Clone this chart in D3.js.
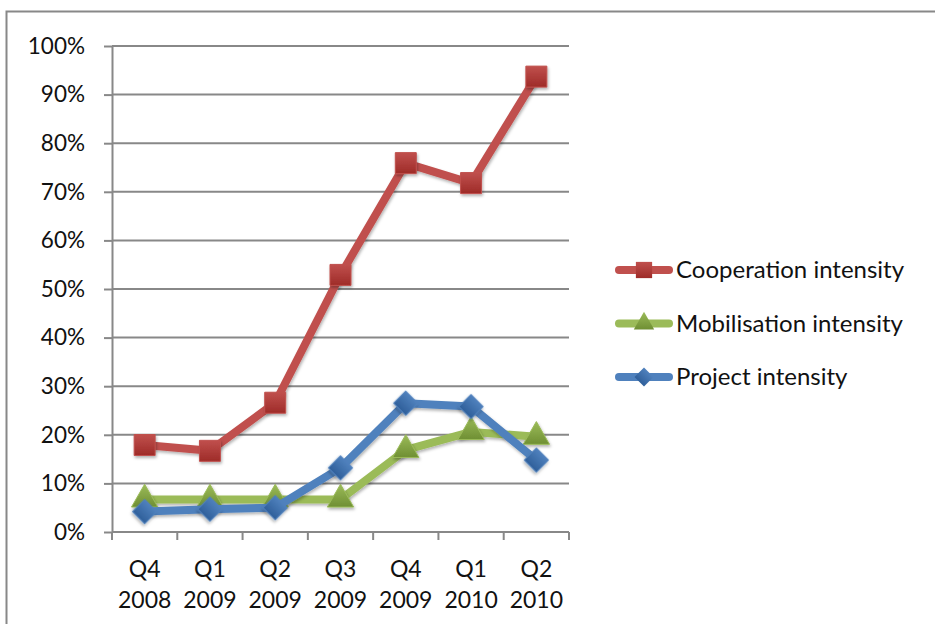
<!DOCTYPE html>
<html>
  <head>
    <meta charset="utf-8" />
    <script src="https://d3js.org/d3.v7.min.js"></script>
    <style>
      body { margin: 0; background: #fff; }
      text { font-family: Lato, "Noto Sans", sans-serif; fill: #111; }
    </style>
  </head>
  <body>
    <svg id="chart" width="935" height="624"></svg>
    <script>
      // data
      const quarters = ["Q4", "Q1", "Q2", "Q3", "Q4", "Q1", "Q2"];
      const years = ["2008", "2009", "2009", "2009", "2009", "2010", "2010"];
      const cooperation = [17.9, 16.7, 26.6, 52.9, 75.9, 71.8, 93.7];
      const mobilisation = [6.7, 6.7, 6.7, 6.7, 16.9, 20.6, 19.6];
      const project = [4.2, 4.7, 5.0, 13.2, 26.5, 25.8, 14.8];
      const yTicks = [0, 10, 20, 30, 40, 50, 60, 70, 80, 90, 100];

      // diamond = square turned by 45 degrees
      const series = [
        { name: "Cooperation intensity", values: cooperation, color: "#c0504d", dark: "#9e2b28", shape: d3.symbolSquare, size: 440, rot: 0 },
        { name: "Mobilisation intensity", values: mobilisation, color: "#9bbb59", dark: "#6f8f33", shape: d3.symbolTriangle, size: 300, rot: 0 },
        { name: "Project intensity", values: project, color: "#4f81bd", dark: "#2f5f9a", shape: d3.symbolSquare, size: 300, rot: 45 }
      ];

      const svg = d3.select("#chart");

      // outer frame of the chart object
      svg.append("rect")
        .attr("x", 6.5).attr("y", 11.5)
        .attr("width", 1000).attr("height", 700)
        .attr("fill", "none").attr("stroke", "#888").attr("stroke-width", 2);

      const plotL = 112, plotR = 569, plotT = 46, plotB = 532;

      const x = d3.scaleBand().domain(d3.range(quarters.length)).range([plotL, plotR]);
      const y = d3.scaleLinear().domain([0, 100]).range([plotB, plotT]);

      const defs = svg.append("defs");
      const shadow = defs.append("filter").attr("id", "shadow")
        .attr("x", "-50%").attr("y", "-50%").attr("width", "200%").attr("height", "200%");
      shadow.append("feDropShadow")
        .attr("dx", 1).attr("dy", 2).attr("stdDeviation", 1.5)
        .attr("flood-color", "#000").attr("flood-opacity", 0.3);

      series.forEach((s, i) => {
        const g = defs.append("linearGradient").attr("id", "grad" + i)
          .attr("x1", 0).attr("y1", 0).attr("x2", 0).attr("y2", 1);
        g.append("stop").attr("offset", "0%").attr("stop-color", s.color);
        g.append("stop").attr("offset", "100%").attr("stop-color", s.dark);
      });

      // gridlines
      svg.append("g")
        .selectAll("line")
        .data(yTicks.filter(d => d > 0))
        .join("line")
        .attr("x1", plotL).attr("x2", plotR)
        .attr("y1", d => y(d)).attr("y2", d => y(d))
        .attr("stroke", "#888").attr("stroke-width", 2);

      // y axis
      const yAxis = svg.append("g")
        .attr("transform", `translate(${plotL},0)`)
        .call(d3.axisLeft(y).tickValues(yTicks).tickFormat(d => d + "%").tickSize(8).tickPadding(19).tickSizeOuter(0));
      yAxis.select(".domain").attr("stroke", "#888").attr("stroke-width", 2);
      yAxis.selectAll(".tick line").attr("stroke", "#888").attr("stroke-width", 2);
      yAxis.selectAll("text").style("font-size", "22.5px").attr("fill", "#111");

      // x axis: ticks at band boundaries
      const xAxis = svg.append("g").attr("transform", `translate(0,${plotB})`);
      xAxis.append("line")
        .attr("x1", plotL).attr("x2", plotR)
        .attr("stroke", "#888").attr("stroke-width", 2);
      xAxis.selectAll(".xt")
        .data(d3.range(quarters.length + 1))
        .join("line")
        .attr("class", "xt")
        .attr("x1", d => plotL + d * x.bandwidth()).attr("x2", d => plotL + d * x.bandwidth())
        .attr("y1", 0).attr("y2", 8)
        .attr("stroke", "#888").attr("stroke-width", 2);
      const lbl = xAxis.selectAll(".xl")
        .data(quarters)
        .join("text")
        .attr("class", "xl")
        .attr("text-anchor", "middle")
        .attr("x", (d, i) => x(i) + x.bandwidth() / 2)
        .style("font-size", "23px");
      lbl.append("tspan").attr("x", (d, i) => x(i) + x.bandwidth() / 2).attr("y", 45).text(d => d);
      lbl.append("tspan").attr("x", (d, i) => x(i) + x.bandwidth() / 2).attr("y", 76).text((d, i) => years[i]);

      const line = d3.line()
        .x((d, i) => x(i) + x.bandwidth() / 2)
        .y(d => y(d));

      // draw series: red first, then green, blue on top
      series.forEach((s, si) => {
        const g = svg.append("g");
        g.append("path")
          .datum(s.values)
          .attr("d", line)
          .attr("fill", "none")
          .attr("stroke", s.color)
          .attr("stroke-width", 8)
          .attr("stroke-linejoin", "round")
          .attr("filter", "url(#shadow)");
        g.selectAll("path.m")
          .data(s.values)
          .join("path")
          .attr("class", "m")
          .attr("transform", (d, i) => `translate(${x(i) + x.bandwidth() / 2},${y(d)}) rotate(${s.rot})`)
          .attr("d", d3.symbol().type(s.shape).size(s.size))
          .attr("fill", `url(#grad${si})`)
          .attr("stroke", s.color)
          .attr("stroke-width", 1)
          .attr("filter", "url(#shadow)");
      });

      // legend
      const legY = d3.scalePoint().domain(series.map(s => s.name)).range([270, 377]);
      const leg = svg.append("g");
      series.forEach((s, si) => {
        const ly = legY(s.name);
        leg.append("line")
          .attr("x1", 619).attr("x2", 669)
          .attr("y1", ly).attr("y2", ly)
          .attr("stroke", s.color).attr("stroke-width", 8).attr("stroke-linecap", "round");
        leg.append("path")
          .attr("transform", `translate(644,${ly}) rotate(${s.rot})`)
          .attr("d", d3.symbol().type(s.shape).size(s.size * 0.6))
          .attr("fill", `url(#grad${si})`);
        leg.append("text")
          .attr("x", 676).attr("y", ly)
          .attr("dy", "0.35em")
          .style("font-size", "24px")
          .text(s.name);
      });
    </script>
  </body>
</html>
